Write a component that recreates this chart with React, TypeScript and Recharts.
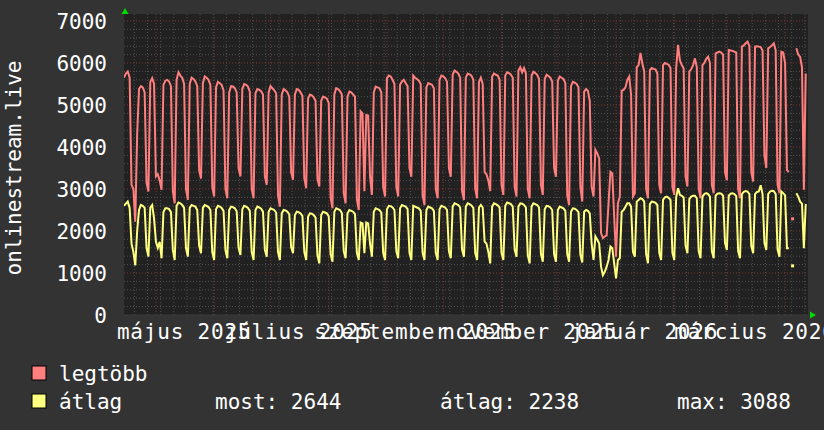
import React from 'react';
import { LineChart, Line, XAxis, YAxis, CartesianGrid, ReferenceLine } from 'recharts';

// daily values, Monday 14 Apr 2025 .. Sunday 12 Apr 2026 (one row = one week, Mon..Sun)
const maxValues: (number | null)[] = [
  5650, 5750, 5800, 5650, 3100, 3000, 2220,
  4300, 5380, 5450, 5420, 5300, 3150, 2940,
  5550, 5640, 5500, 3300, 3350, 3200, 2980,
  5480, 5580, 5600, 5560, 5450, 2950, 2660,
  5600, 5780, 5700, 5650, 5500, 3000, 2740,
  5500, 5650, 5620, 5560, 5450, 3450, 3250,
  5520, 5680, 5650, 5600, 5480, 3050, 2820,
  5420, 5550, 5520, 5480, 5350, 3000, 2780,
  5300, 5450, 5440, 5400, 5300, 3500, 3300,
  5380, 5500, 5480, 5440, 5320, 3000, 2780,
  5280, 5380, 5360, 5330, 5250, 3300, 3100,
  5300, 5450, 5400, 5350, 5280, 2850, 2580,
  5250, 5380, 5350, 5300, 5200, 3400, 3220,
  5250, 5380, 5360, 5300, 5220, 3250, 3020,
  5150, 5250, 5230, 5180, 5100, 3250, 3060,
  5100, 5200, 5180, 5150, 5050, 2800, 2540,
  5250, 5400, 5380, 5330, 5250, 2900, 2660,
  5200, 5320, 5300, 5250, 5200, 2750, 2500,
  4850, 4800, 2950, 4760, 4750, 3300, 2860,
  5300, 5440, 5420, 5400, 5300, 3050, 2820,
  5640, 5700, 5680, 5600, 5500, 3050, 2820,
  5480, 5560, 5600, 5520, 5450, 3500, 3290,
  5700, 5650, 5620, 5580, 5500, 2850, 2620,
  5420, 5520, 5500, 5480, 5400, 3000, 2780,
  5600, 5700, 5680, 5640, 5550, 3500, 3290,
  5720, 5820, 5790, 5750, 5650, 2950, 2740,
  5650, 5750, 5730, 5700, 5600, 3000, 2780,
  5550, 5650, 5500, 3400, 3350, 3200, 2950,
  5680, 5750, 5720, 5700, 5600, 3100, 2860,
  5700, 5780, 5760, 5720, 5650, 3050, 2820,
  5820, 5900, 5780, 5880, 5750, 3000, 2780,
  5700, 5790, 5760, 5720, 5620, 3100, 2860,
  5620, 5720, 5690, 5650, 5560, 3500, 3290,
  5580, 5680, 5650, 5620, 5520, 2850, 2620,
  5450, 5550, 5530, 5500, 5420, 3050, 2700,
  5320, 5380, 5340, 5100, 3050, 2820, 3930,
  3850, 3730, 1950, 1830, 1870, 1900, 2660,
  3410, 3370, 2340, 1390, 2660, 2820, 5340,
  5360, 5420, 5600, 5680, 5250, 2820, 2900,
  5900, 5950, 6240, 5990, 5800, 3000, 2780,
  5830, 5880, 5860, 5850, 5750, 3100, 2900,
  5950, 6000, 5980, 5960, 5880, 3050, 2860,
  5880, 6430, 6060, 5950, 5870, 3300, 3060,
  5800, 5850, 5950, 6110, 5900, 3000, 2780,
  5950, 6000, 6100, 6150, 6000, 3100, 2900,
  6230, 6250, 6270, 6250, 6200, 3400, 3210,
  6310, 6300, 6290, 6270, 6250, 3000, 2780,
  6390, 6420, 6470, 6510, 6400, 3400, 3180,
  6390, 6400, 6390, 6380, 6300, 3800, 3500,
  6350, 6380, 6420, 6470, 6300, 3100, 2900,
  6270, 6250, 6000, 3450, 3400, null, 2290,
  null, 6350, 6200, 6150, 5900, 2980, 5750,
];

const avgValues: (number | null)[] = [
  2600, 2650, 2700, 2550, 1700, 1500, 1180,
  2000, 2500, 2620, 2600, 2550, 1600, 1390,
  2560, 2620, 2300, 1750, 1600, 1740, 1350,
  2450, 2540, 2540, 2520, 2450, 1550, 1310,
  2600, 2680, 2660, 2620, 2550, 1600, 1390,
  2550, 2620, 2600, 2580, 2500, 1650, 1470,
  2550, 2620, 2600, 2570, 2500, 1500, 1310,
  2520, 2600, 2580, 2550, 2480, 1550, 1350,
  2500, 2580, 2570, 2540, 2470, 1600, 1430,
  2520, 2600, 2580, 2550, 2480, 1500, 1310,
  2500, 2580, 2560, 2530, 2460, 1550, 1390,
  2460, 2540, 2520, 2500, 2440, 1500, 1310,
  2420, 2500, 2490, 2460, 2400, 1620, 1470,
  2380, 2460, 2450, 2420, 2360, 1500, 1310,
  2340, 2420, 2410, 2380, 2320, 1420, 1230,
  2380, 2460, 2440, 2420, 2350, 1450, 1270,
  2460, 2540, 2520, 2500, 2430, 1520, 1350,
  2420, 2500, 2480, 2460, 2400, 1480, 1310,
  2200, 2180, 1470, 2200, 2180, 1700, 1390,
  2460, 2540, 2520, 2500, 2440, 1480, 1310,
  2520, 2600, 2590, 2560, 2500, 1520, 1350,
  2540, 2620, 2600, 2580, 2520, 1480, 1310,
  2600, 2580, 2560, 2540, 2480, 1480, 1310,
  2500, 2580, 2560, 2540, 2480, 1480, 1310,
  2520, 2600, 2580, 2560, 2500, 1520, 1350,
  2580, 2660, 2640, 2620, 2560, 1560, 1390,
  2580, 2660, 2640, 2610, 2550, 1480, 1310,
  2560, 2620, 2560, 1750, 1700, 1500, 1230,
  2580, 2660, 2640, 2610, 2560, 1480, 1310,
  2600, 2680, 2660, 2640, 2580, 1560, 1390,
  2580, 2660, 2650, 2620, 2560, 1420, 1230,
  2580, 2660, 2640, 2620, 2560, 1450, 1270,
  2520, 2600, 2590, 2560, 2500, 1450, 1270,
  2500, 2580, 2560, 2540, 2480, 1450, 1270,
  2460, 2540, 2530, 2500, 2450, 1430, 1250,
  2460, 2500, 2480, 2420, 1700, 1310, 1870,
  1790, 1710, 1150, 950, 1030, 1150, 1310,
  1630, 1590, 1230, 870, 1310, 1350, 2460,
  2500, 2580, 2660, 2660, 2580, 1500, 1390,
  2700, 2740, 2780, 2760, 2700, 1450, 1230,
  2640, 2700, 2690, 2670, 2620, 1480, 1310,
  2740, 2800, 2820, 2790, 2740, 1480, 1310,
  2800, 3020, 2860, 2840, 2800, 1650, 1470,
  2760, 2820, 2840, 2840, 2780, 1520, 1350,
  2820, 2880, 2900, 2880, 2820, 1520, 1350,
  2840, 2890, 2900, 2890, 2840, 1720, 1550,
  2840, 2890, 2900, 2880, 2830, 1520, 1350,
  2880, 2930, 2950, 2940, 2880, 1640, 1470,
  2880, 2930, 2940, 3088, 2880, 1720, 1550,
  2880, 2940, 2960, 2950, 2880, 1560, 1390,
  2940, 2900, 2850, 1590, 1590, null, 1170,
  null, 2900, 2820, 2700, 2650, 1590, 2644,
];

const seriesNames = ['legtöbb', 'átlag'];
const seriesColors = ['#ff7f7f', '#ffff80'];
const legendStats = ['most: 2644', 'átlag: 2238', 'max: 3088'];
const yTicks = [0, 1000, 2000, 3000, 4000, 5000, 6000, 7000];
const monthStartDays = [17, 48, 78, 109, 140, 170, 201, 231, 262, 293, 321, 352];
const labelMonthDays = [17, 78, 140, 201, 262, 321];
const monthLabels = ['május 2025', 'július 2025', 'szeptember 2025', 'november 2025', 'január 2026', 'március 2026'];
const yTitle = 'onlinestream.live';

const FONT = "'DejaVu Sans Mono', monospace";
const X_END = 364.2;
const Y_TOP = 7167;
const LABEL_SHIFT = 15; // half of a 30-day label precision

const labelTicks = labelMonthDays.map((d) => d + LABEL_SHIFT);
const minorH: number[] = [];
for (let v = 200; v < Y_TOP; v += 200) if (v % 1000 !== 0) minorH.push(v);
const majorH = yTicks.filter((v) => v > 0);
const minorV: number[] = [];
for (let d = 5.5; d < X_END; d += 7) minorV.push(d);

const YTick = (props: any) => {
  const { y, payload } = props;
  return (
    <text x={107} y={y + 1} textAnchor="end" dominantBaseline="central" fill="#ffffff" fontSize={21} fontFamily={FONT}>
      {payload.value}
    </text>
  );
};

const XTick = (props: any) => {
  const { x, payload } = props;
  const i = labelTicks.indexOf(payload.value);
  return (
    <text x={x} y={339} textAnchor="middle" fill="#ffffff" fontSize={21} letterSpacing={0.8} fontFamily={FONT}>
      {i >= 0 ? monthLabels[i] : ''}
    </text>
  );
};

const makeDot = (arr: (number | null)[], color: string) => (props: any) => {
  const { cx, cy, index } = props;
  const v = arr[index];
  const isolated = v != null && arr[index - 1] == null && arr[index + 1] == null;
  if (!isolated || cx == null || cy == null) return <g key={`d${index}`} />;
  return <rect key={`d${index}`} x={cx - 1.5} y={cy - 1.5} width={3} height={3} fill={color} />;
};

export default function App() {
  const data = maxValues.map((v, i) => ({ day: i, max: v, avg: avgValues[i] }));
  return (
    <div style={{ position: 'absolute', left: 0, top: 0, width: 824, height: 430, background: '#333333', overflow: 'hidden' }}>
      <LineChart width={824} height={430} data={data} margin={{ top: 14, right: 16, bottom: 85, left: 0 }}>
        <CartesianGrid fill="#212121" stroke="none" horizontal={false} vertical={false} />
        <XAxis
          type="number"
          dataKey="day"
          domain={[0, X_END]}
          ticks={labelTicks}
          interval={0}
          tick={XTick}
          tickLine={false}
          axisLine={{ stroke: '#3c3c3c' }}
          height={30}
          allowDataOverflow
        />
        <YAxis
          type="number"
          domain={[0, Y_TOP]}
          ticks={yTicks}
          interval={0}
          tick={YTick}
          tickLine={false}
          axisLine={false}
          width={124}
          allowDataOverflow
        />
        {minorH.map((v) => (
          <ReferenceLine key={`mh${v}`} y={v} stroke="#505050" strokeDasharray="1 2" />
        ))}
        {minorV.map((d) => (
          <ReferenceLine key={`mv${d}`} x={d} stroke="#505050" strokeDasharray="1 2" />
        ))}
        {majorH.map((v) => (
          <ReferenceLine key={`Mh${v}`} y={v} stroke="#7a3636" strokeDasharray="1 2" />
        ))}
        {monthStartDays.map((d) => (
          <ReferenceLine key={`Mv${d}`} x={d} stroke="#7a3636" strokeDasharray="1 2" />
        ))}
        <Line
          type="linear"
          dataKey="max"
          name={seriesNames[0]}
          stroke={seriesColors[0]}
          strokeWidth={2}
          dot={makeDot(maxValues, seriesColors[0])}
          activeDot={false}
          connectNulls={false}
          isAnimationActive={false}
        />
        <Line
          type="linear"
          dataKey="avg"
          name={seriesNames[1]}
          stroke={seriesColors[1]}
          strokeWidth={2}
          dot={makeDot(avgValues, seriesColors[1])}
          activeDot={false}
          connectNulls={false}
          isAnimationActive={false}
        />
      </LineChart>
      <svg width={824} height={430} style={{ position: 'absolute', left: 0, top: 0, pointerEvents: 'none' }}>
        <polygon points="121.5,14 128.5,14 125,8" fill="#00dd00" />
        <polygon points="810,311.5 810,318.5 816,315" fill="#00dd00" />
        <text
          transform="translate(14,168) rotate(-90)"
          textAnchor="middle"
          dominantBaseline="central"
          fill="#ffffff"
          fontSize={21}
          fontFamily={FONT}
        >
          {yTitle}
        </text>
        <rect x={32} y={366} width={14} height={14} fill={seriesColors[0]} stroke="#000000" strokeWidth={1} />
        <text x={59} y={381} fill="#ffffff" fontSize={21} fontFamily={FONT}>{seriesNames[0]}</text>
        <rect x={32} y={394} width={14} height={14} fill={seriesColors[1]} stroke="#000000" strokeWidth={1} />
        <text x={59} y={409} fill="#ffffff" fontSize={21} fontFamily={FONT}>{seriesNames[1]}</text>
        <text x={215} y={409} fill="#ffffff" fontSize={21} fontFamily={FONT}>{legendStats[0]}</text>
        <text x={440} y={409} fill="#ffffff" fontSize={21} fontFamily={FONT}>{legendStats[1]}</text>
        <text x={677} y={409} fill="#ffffff" fontSize={21} fontFamily={FONT}>{legendStats[2]}</text>
      </svg>
    </div>
  );
}
